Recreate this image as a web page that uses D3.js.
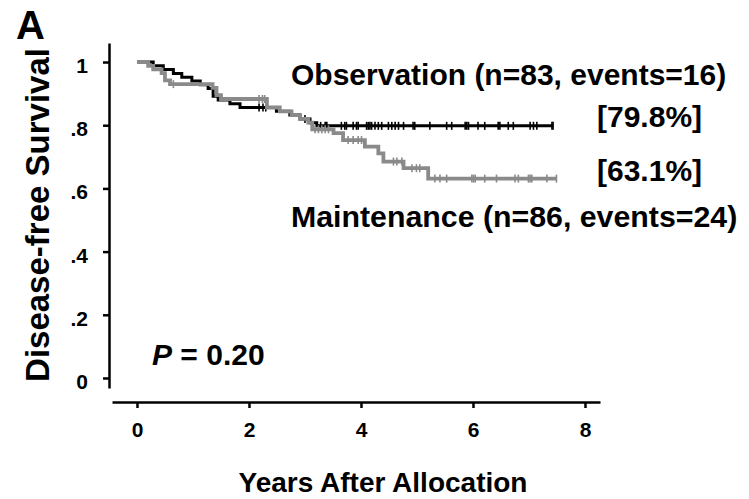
<!DOCTYPE html>
<html>
<head>
<meta charset="utf-8">
<script src="https://cdn.jsdelivr.net/npm/d3@7"></script>
<style>
  html, body { margin: 0; padding: 0; background: #fff; }
  svg { display: block; }
  text { font-family: "Liberation Sans", Arial, Helvetica, sans-serif; font-weight: bold; fill: #000; }
</style>
</head>
<body>
<script>
// ---- data ----
const xTickValues = [0, 2, 4, 6, 8];
const yTickValues = [0, 0.2, 0.4, 0.6, 0.8, 1];
const yTickLabels = ["0", ".2", ".4", ".6", ".8", "1"];

// Observation (black)
const obsTimes = [0, 0.29, 0.47, 0.65, 0.80, 0.98, 1.13, 1.27, 1.36, 1.45, 1.66, 1.84, 2.49, 2.73, 2.91, 3.09, 3.21];
const obsSurv  = [1, 0.988, 0.976, 0.964, 0.952, 0.940, 0.928, 0.916, 0.892, 0.880, 0.868, 0.856, 0.844, 0.832, 0.820, 0.808, 0.798];
const obsEnd = 7.43;
const obsCensor = [2.18, 2.25, 2.30, 3.00, 3.28, 3.36, 3.39, 3.65, 3.71, 3.74, 3.86, 3.92, 3.95, 4.10, 4.13, 4.16, 4.19,
  4.25, 4.31, 4.37, 4.49, 4.55, 4.61, 4.67, 4.76, 4.93, 4.96, 5.23, 5.53, 5.62, 5.86, 5.89, 5.92, 6.09, 6.21,
  6.45, 6.48, 6.63, 6.72, 7.02, 7.08, 7.14, 7.41, 7.43];

// Maintenance (gray)
const mntTimes = [0, 0.20, 0.29, 0.44, 0.50, 0.59, 1.35, 1.42, 1.50, 2.32, 2.55, 2.76, 2.91, 3.06, 3.13, 3.51, 3.68, 4.07, 4.31, 4.40, 4.76, 5.20];
const mntSurv  = [1, 0.988, 0.977, 0.965, 0.942, 0.930, 0.918, 0.895, 0.883, 0.856, 0.844, 0.832, 0.820, 0.808, 0.787, 0.775, 0.753, 0.732, 0.711, 0.685, 0.664, 0.631];
const mntEnd = 7.49;
const mntCensor = [0.65, 2.18, 2.24, 2.28, 3.18, 3.24, 3.30, 3.36, 3.42, 3.77, 3.86, 3.95, 4.01, 4.58, 4.64, 4.73,
  4.91, 4.99, 5.05, 5.32, 5.41, 5.53, 5.98, 6.01, 6.04, 6.21, 6.42, 6.75, 6.81, 6.99, 7.02, 7.05, 7.32, 7.49];

const labels = {
  panel: "A",
  yTitle: "Disease-free Survival",
  xTitle: "Years After Allocation",
  obs: "Observation (n=83, events=16)",
  obsPct: "[79.8%]",
  mnt: "Maintenance (n=86, events=24)",
  mntPct: "[63.1%]"
};

// ---- drawing ----
const W = 749, H = 499;
const svg = d3.select("body").append("svg").attr("width", W).attr("height", H);

const x = d3.scaleLinear().domain([-0.446, 8.268]).range([112, 600]);
const y = d3.scaleLinear().domain([-0.0317, 1.0602]).range([388, 43]);

// axes
const xAxis = d3.axisBottom(x).tickValues(xTickValues).tickSize(6).tickSizeOuter(0).tickPadding(14)
  .tickFormat(d3.format("d"));
const gx = svg.append("g").attr("transform", "translate(0,402)").call(xAxis);
gx.select(".domain").attr("stroke", "#000").attr("stroke-width", 2.5);
gx.selectAll(".tick line").attr("stroke", "#000").attr("stroke-width", 2.5);
gx.selectAll(".tick text").style("font-size", "21px").style("font-family", '"Liberation Sans", Arial, sans-serif')
  .style("font-weight", "bold").attr("fill", "#000");

const yAxis = d3.axisLeft(y).tickValues(yTickValues).tickSize(6).tickSizeOuter(0).tickPadding(15)
  .tickFormat((d, i) => yTickLabels[i]);
const gy = svg.append("g").attr("transform", "translate(109,0)").call(yAxis);
gy.select(".domain").attr("stroke", "#000").attr("stroke-width", 2.5);
gy.selectAll(".tick line").attr("stroke", "#000").attr("stroke-width", 2.5);
gy.selectAll(".tick text").style("font-size", "21px").style("font-family", '"Liberation Sans", Arial, sans-serif')
  .style("font-weight", "bold").attr("fill", "#000").attr("dy", "0.5em");

// curves
function stepData(times, surv, end) {
  const pts = times.map((t, i) => [t, surv[i]]);
  pts.push([end, surv[surv.length - 1]]);
  return pts;
}
function survAt(times, surv, t) {
  let s = surv[0];
  for (let i = 0; i < times.length; i++) { if (times[i] <= t) s = surv[i]; }
  return s;
}
const line = d3.line().x(d => x(d[0])).y(d => y(d[1])).curve(d3.curveStepAfter);

const series = [
  { times: obsTimes, surv: obsSurv, end: obsEnd, censor: obsCensor, color: "#000", width: 3 },
  { times: mntTimes, surv: mntSurv, end: mntEnd, censor: mntCensor, color: "#8a8a8a", width: 3.8 }
];

series.forEach(s => {
  svg.append("path").datum(stepData(s.times, s.surv, s.end))
    .attr("d", line).attr("fill", "none").attr("stroke", s.color)
    .attr("stroke-width", s.width).attr("stroke-linejoin", "miter");
  svg.append("g").selectAll("line").data(s.censor).join("line")
    .attr("x1", d => x(d)).attr("x2", d => x(d))
    .attr("y1", d => y(survAt(s.times, s.surv, d)) - 4)
    .attr("y2", d => y(survAt(s.times, s.surv, d)) + 4)
    .attr("stroke", s.color).attr("stroke-width", 1.6);
});

// texts
svg.append("text").attr("x", 16).attr("y", 39).style("font-size", "40px").text(labels.panel);
svg.append("text").attr("transform", "translate(49,215) rotate(-90)").attr("text-anchor", "middle")
  .style("font-size", "33px").text(labels.yTitle);
svg.append("text").attr("x", 383).attr("y", 492).attr("text-anchor", "middle")
  .style("font-size", "28px").text(labels.xTitle);
svg.append("text").attr("x", 291).attr("y", 85).style("font-size", "30px").text(labels.obs);
svg.append("text").attr("x", 597).attr("y", 127).style("font-size", "30px").text(labels.obsPct);
svg.append("text").attr("x", 597).attr("y", 181).style("font-size", "30px").text(labels.mntPct);
svg.append("text").attr("x", 291).attr("y", 227).style("font-size", "30.3px").text(labels.mnt);

const pText = svg.append("text").attr("x", 152).attr("y", 365).style("font-size", "30px");
pText.append("tspan").style("font-style", "italic").text("P");
pText.append("tspan").text(" = 0.20");
</script>
</body>
</html>
